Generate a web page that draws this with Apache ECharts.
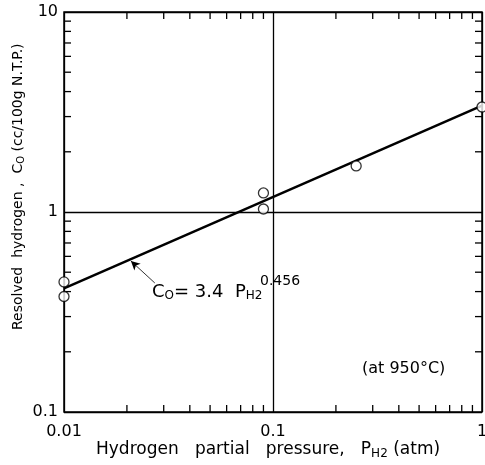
<!DOCTYPE html>
<html>
<head>
<meta charset="utf-8">
<script src="https://cdn.jsdelivr.net/npm/echarts@6/dist/echarts.min.js"></script>
<style>
  html, body { margin: 0; padding: 0; background: #fff; }
  #main { width: 485px; height: 465px; }
</style>
</head>
<body>
<div id="main"></div>
<script>
var chart = echarts.init(document.getElementById('main'));

// measured points (P_H2 in atm, Co in cc/100g)
var pressure = [0.01, 0.01, 0.09, 0.09, 0.25, 1];
var resolved = [0.447, 0.378, 1.245, 1.035, 1.70, 3.35];

// fitted line Co = 3.4 P^0.456, end points
var fitX = [0.01, 1];
var fitY = [0.415, 3.4];

// minor ticks
var xMinor = [0.02, 0.03, 0.04, 0.05, 0.06, 0.07, 0.08, 0.09,
              0.2, 0.3, 0.4, 0.5, 0.6, 0.7, 0.8, 0.9];
var yMinor = [0.2, 0.3, 0.4, 0.5, 0.6, 0.7, 0.8, 0.9,
              2, 3, 4, 5, 6, 7, 8, 9];

var font = 'DejaVu Sans';

var scatterData = pressure.map(function (p, i) { return [p, resolved[i]]; });
var fitData = fitX.map(function (p, i) { return [p, fitY[i]]; });

// tick data: [x, y, dx, dy]
var tickData = [];
xMinor.forEach(function (v) {
    tickData.push([v, 0.1, 0, -1]);
    tickData.push([v, 10, 0, 1]);
});
yMinor.forEach(function (v) {
    tickData.push([0.01, v, 1, 0]);
    tickData.push([1, v, -1, 0]);
});

var option = {
    animation: false,
    backgroundColor: '#fff',
    textStyle: { fontFamily: font },
    grid: {
        left: 64, top: 12, right: 3, bottom: 53,
        outerBoundsMode: 'none',
        containLabel: false,
        show: true,
        borderColor: '#000',
        borderWidth: 1.5
    },
    xAxis: {
        type: 'log',
        logBase: 10,
        min: 0.01,
        max: 1,
        axisLine: { show: false },
        axisTick: { show: false },
        splitLine: { show: true, lineStyle: { color: '#000', width: 1.3 } },
        axisLabel: {
            color: '#000',
            fontSize: 16,
            margin: 12,
            formatter: function (v) { return String(v); }
        }
    },
    yAxis: {
        type: 'log',
        logBase: 10,
        min: 0.1,
        max: 10,
        axisLine: { show: false },
        axisTick: { show: false },
        splitLine: { show: true, lineStyle: { color: '#000', width: 1.3 } },
        axisLabel: {
            color: '#000',
            fontSize: 16,
            margin: 6,
            formatter: function (v) { return String(v); }
        }
    },
    graphic: [
        {
            type: 'text',
            left: 96, top: 441,
            style: {
                text: '{a|Hydrogen   partial   pressure,   P}{s|H2}{a| (atm)}',
                rich: {
                    a: { fontSize: 17, fontFamily: font, fill: '#000' },
                    s: { fontSize: 12, fontFamily: font, fill: '#000', padding: [8, 0, 0, 0] }
                }
            }
        },
        {
            type: 'text',
            x: 10, y: 330,
            rotation: Math.PI / 2,
            style: {
                text: '{a|Resolved  hydrogen ,  C}{s|O}{a| (cc/100g N.T.P.)}',
                rich: {
                    a: { fontSize: 14, fontFamily: font, fill: '#000' },
                    s: { fontSize: 10, fontFamily: font, fill: '#000', padding: [6, 0, 0, 0] }
                }
            }
        },
        {
            type: 'text',
            left: 362, top: 361,
            style: { text: '(at 950°C)', fontSize: 16, fontFamily: font, fill: '#000' }
        },
        {
            type: 'text',
            left: 152, top: 283,
            style: {
                text: '{a|C}{s|O}{a|= 3.4  P}{s|H2}',
                rich: {
                    a: { fontSize: 18, fontFamily: font, fill: '#000' },
                    s: { fontSize: 12, fontFamily: font, fill: '#000', padding: [8, 0, 0, 0] }
                }
            }
        },
        {
            type: 'text',
            left: 260, top: 274,
            style: { text: '0.456', fontSize: 14, fontFamily: font, fill: '#000' }
        }
    ],
    series: [
        {
            type: 'custom',
            silent: true,
            renderItem: function (params, api) {
                var p = api.coord([api.value(0), api.value(1)]);
                var len = 7;
                return {
                    type: 'line',
                    shape: {
                        x1: p[0], y1: p[1],
                        x2: p[0] + api.value(2) * len,
                        y2: p[1] + api.value(3) * len
                    },
                    style: { stroke: '#000', lineWidth: 1.3 }
                };
            },
            data: tickData,
            z: 1
        },
        {
            type: 'line',
            data: fitData,
            symbol: 'none',
            lineStyle: { color: '#000', width: 2.5 },
            markLine: {
                silent: true,
                symbol: ['none', 'arrow'],
                symbolSize: [7, 9],
                label: { show: false },
                lineStyle: { color: '#000', width: 0.8, type: 'solid' },
                data: [[{ coord: [0.0272, 0.4416] }, { coord: [0.0209, 0.569] }]]
            },
            z: 2
        },
        {
            type: 'scatter',
            data: scatterData,
            symbol: 'circle',
            symbolSize: 10,
            itemStyle: { color: '#fff', borderColor: '#000', borderWidth: 1.3 },
            clip: false,
            z: 3
        }
    ]
};

chart.setOption(option);

window.addEventListener('resize', function () {
    chart.resize();
});
</script>
</body>
</html>
